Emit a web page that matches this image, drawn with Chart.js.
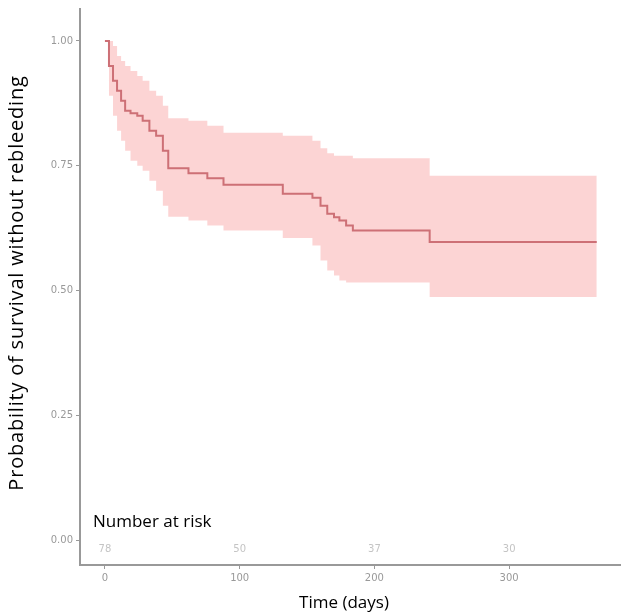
<!DOCTYPE html>
<html>
<head>
<meta charset="utf-8">
<script src="https://cdn.jsdelivr.net/npm/chart.js@4/dist/chart.umd.min.js"></script>
<style>
  html, body { margin: 0; padding: 0; background: #fff; }
  #wrap { width: 621px; height: 614px; position: relative; }
</style>
</head>
<body>
<div id="wrap"><canvas id="km"></canvas></div>
<script>
// Kaplan-Meier estimate
const days     = [0, 3, 6, 9, 12, 15, 19, 24, 28, 33, 38, 43, 47, 62, 76, 88, 132, 154, 160, 165, 170, 174, 179, 184, 241, 365];
const survival = [1.0, 0.95, 0.92, 0.90, 0.88, 0.86, 0.855, 0.85, 0.84, 0.82, 0.81, 0.78, 0.745, 0.735, 0.725, 0.712, 0.694, 0.686, 0.67, 0.654, 0.647, 0.64, 0.63, 0.62, 0.597, 0.597];
const upperCI  = [1.0, 1.0, 0.99, 0.97, 0.96, 0.95, 0.94, 0.93, 0.92, 0.90, 0.89, 0.87, 0.845, 0.84, 0.83, 0.816, 0.81, 0.80, 0.785, 0.775, 0.77, 0.77, 0.77, 0.765, 0.73, 0.73];
const lowerCI  = [1.0, 0.89, 0.85, 0.82, 0.80, 0.78, 0.76, 0.75, 0.74, 0.72, 0.70, 0.67, 0.648, 0.64, 0.63, 0.62, 0.605, 0.59, 0.56, 0.54, 0.53, 0.52, 0.516, 0.516, 0.487, 0.487];

const xTicks = [0, 100, 200, 300];
const yTicks = [0, 0.25, 0.5, 0.75, 1.0];
const riskCounts = [78, 50, 37, 30];

function pts(vals) {
    return days.map(function(d, i) { return {x: d, y: vals[i]}; });
}

const extraText = {
    id: 'extraText',
    afterDraw: function(chart) {
        const ctx = chart.ctx;
        const xs = chart.scales.x;
        ctx.save();
        ctx.fillStyle = '#000';
        ctx.font = '17px "Open Sans"';
        ctx.textBaseline = 'middle';
        ctx.textAlign = 'left';
        ctx.fillText('Number at risk', 93, 522);
        ctx.textAlign = 'center';
        ctx.fillText('Time (days)', 344, 603);
        ctx.translate(17, 283);
        ctx.rotate(-Math.PI / 2);
        ctx.font = '20px "Open Sans"';
        ctx.letterSpacing = '0.8px';
        ctx.fillText('Probability of survival without rebleeding', 0, 0);
        ctx.restore();

        ctx.save();
        ctx.fillStyle = '#c4c4c4';
        ctx.font = '10px "DejaVu Sans"';
        ctx.textAlign = 'center';
        ctx.textBaseline = 'middle';
        xTicks.forEach(function(t, i) {
            ctx.fillText(String(riskCounts[i]), xs.getPixelForValue(t), 549);
        });
        ctx.restore();
    }
};

new Chart(document.getElementById('km'), {
    type: 'line',
    data: {
        datasets: [
            {
                label: 'survival',
                data: pts(survival),
                stepped: true,
                borderColor: 'rgb(205, 112, 118)',
                borderWidth: 2,
                pointRadius: 0,
                fill: false
            },
            {
                label: 'upper',
                data: pts(upperCI),
                stepped: true,
                borderWidth: 0,
                pointRadius: 0,
                backgroundColor: 'rgba(252, 210, 210, 0.95)',
                fill: '+1'
            },
            {
                label: 'lower',
                data: pts(lowerCI),
                stepped: true,
                borderWidth: 0,
                pointRadius: 0,
                fill: false
            }
        ]
    },
    options: {
        responsive: true,
        maintainAspectRatio: false,
        animation: false,
        layout: { padding: 0 },
        plugins: { legend: { display: false }, tooltip: { enabled: false } },
        scales: {
            x: {
                type: 'linear',
                min: -18.5,
                max: 383,
                afterBuildTicks: function(s) { s.ticks = xTicks.map(function(v) { return {value: v}; }); },
                afterFit: function(s) { s.height = 49; },
                grid: { drawOnChartArea: false, drawTicks: true, tickLength: 4, color: '#999' },
                border: { color: '#999', width: 2 },
                ticks: { color: '#999', font: { size: 10, family: 'DejaVu Sans' }, padding: 3, maxRotation: 0 }
            },
            y: {
                min: -0.05,
                max: 1.064,
                afterBuildTicks: function(s) { s.ticks = yTicks.map(function(v) { return {value: v}; }); },
                afterFit: function(s) { s.width = 80; },
                grid: { drawOnChartArea: false, drawTicks: true, tickLength: 4, color: '#999' },
                border: { color: '#999', width: 2 },
                ticks: {
                    color: '#999',
                    font: { size: 10, family: 'DejaVu Sans' },
                    padding: 3,
                    callback: function(v) { return Number(v).toFixed(2); }
                }
            }
        }
    },
    plugins: [extraText]
});
</script>
</body>
</html>
